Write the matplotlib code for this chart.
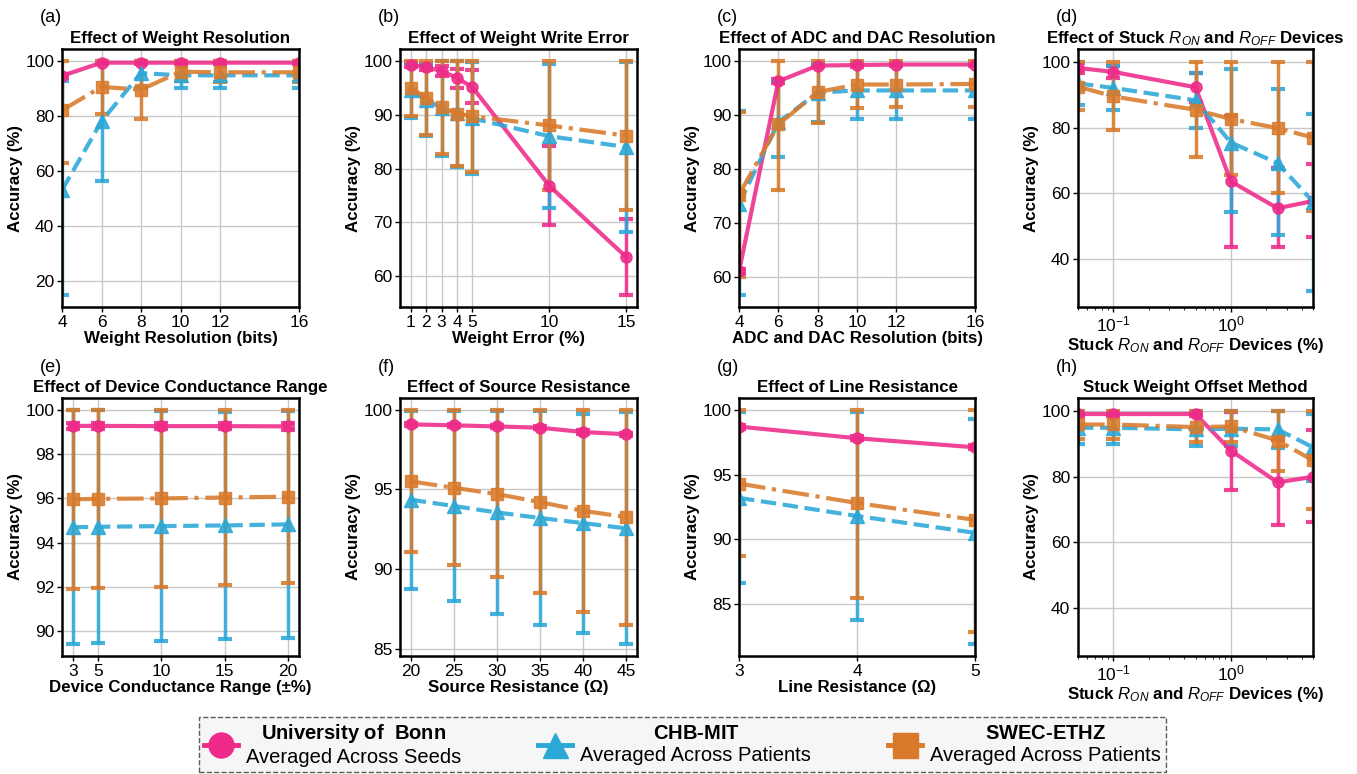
import numpy as np
import matplotlib
matplotlib.use("Agg")
import matplotlib.pyplot as plt
from matplotlib.lines import Line2D
from matplotlib.ticker import MultipleLocator

plt.rcParams['font.family'] = 'Liberation Sans'
plt.rcParams['mathtext.fontset'] = 'custom'
plt.rcParams['mathtext.rm'] = 'Liberation Sans'
plt.rcParams['mathtext.it'] = 'Liberation Sans:italic'
plt.rcParams['mathtext.bf'] = 'Liberation Sans:bold'

# ---------------- data ----------------
# (a) weight resolution
xa = [4, 6, 8, 10, 12, 16]
bonn_a = [94.5, 99.3, 99.3, 99.3, 99.3, 99.3]
bonn_a_lo = [93.7, 98.8, 98.8, 98.8, 98.8, 98.8]
bonn_a_hi = [95.3, 99.8, 99.8, 99.8, 99.8, 99.8]
chb_a = [53.0, 78.0, 95.5, 94.7, 94.7, 94.7]
chb_a_lo = [14.8, 56.3, 90.0, 90.0, 90.0, 90.0]
chb_a_hi = [92.7, 99.7, 100.0, 99.5, 99.5, 99.5]
swec_a = [82.0, 90.5, 89.5, 96.0, 95.8, 95.8]
swec_a_lo = [63.0, 80.7, 79.0, 92.5, 92.2, 92.2]
swec_a_hi = [100, 100, 100, 100, 100, 100]

# (b) weight write error
xb = [1, 2, 3, 4, 5, 10, 15]
bonn_b = [99.3, 98.8, 98.1, 96.8, 95.1, 76.8, 63.6]
bonn_b_lo = [98.8, 98.2, 97.2, 95.0, 92.1, 69.6, 56.5]
bonn_b_hi = [99.8, 99.4, 99.0, 98.5, 98.3, 84.1, 70.6]
chb_b = [94.5, 92.7, 91.3, 90.3, 89.3, 86.0, 84.0]
chb_b_lo = [89.4, 86.1, 82.3, 80.3, 78.9, 72.6, 68.3]
chb_b_hi = [99.6, 99.3, 100, 100, 99.7, 99.4, 99.7]
swec_b = [95.0, 93.1, 91.4, 90.2, 89.7, 88.0, 86.1]
swec_b_lo = [89.7, 86.3, 82.7, 80.5, 79.3, 76.1, 72.3]
swec_b_hi = [100, 100, 100, 100, 100, 100, 100]

# (c) ADC / DAC resolution
xc = [4, 6, 8, 10, 12, 16]
bonn_c = [61.0, 96.2, 99.1, 99.2, 99.3, 99.3]
bonn_c_lo = [60.6, 95.8, 98.8, 98.9, 99.0, 99.0]
bonn_c_hi = [61.4, 96.6, 99.4, 99.5, 99.6, 99.6]
chb_c = [73.5, 88.6, 94.1, 94.5, 94.5, 94.5]
chb_c_lo = [56.6, 82.1, 88.6, 89.3, 89.3, 89.3]
chb_c_hi = [90.7, 96.3, 99.6, 99.7, 99.7, 99.7]
swec_c = [75.2, 88.2, 94.2, 95.6, 95.6, 95.7]
swec_c_lo = [60.0, 76.0, 88.4, 91.3, 91.5, 91.5]
swec_c_hi = [90.5, 100, 100, 100, 100, 100]

# (d) stuck devices
xd = [0.05, 0.1, 0.5, 1, 2.5, 5]
bonn_d = [98.3, 97.1, 92.4, 63.6, 55.4, 57.6]
bonn_d_lo = [96.8, 95.2, 88.0, 43.6, 43.6, 46.5]
bonn_d_hi = [99.8, 99.0, 96.8, 83.6, 67.8, 68.8]
chb_d = [93.6, 92.2, 88.4, 75.5, 69.2, 57.4]
chb_d_lo = [86.9, 85.5, 79.9, 54.3, 47.1, 30.0]
chb_d_hi = [100, 98.9, 96.9, 97.9, 91.9, 84.3]
swec_d = [92.6, 89.6, 85.5, 82.7, 79.9, 77.0]
swec_d_lo = [85.5, 79.4, 71.2, 65.5, 60.2, 54.6]
swec_d_hi = [100, 100, 100, 100, 100, 100]

# (e) device conductance range
xe = [3, 5, 10, 15, 20]
bonn_e = [99.27, 99.27, 99.26, 99.26, 99.25]
bonn_e_lo = [99.12, 99.12, 99.11, 99.11, 99.10]
bonn_e_hi = [99.42, 99.42, 99.41, 99.41, 99.40]
chb_e = [94.70, 94.72, 94.75, 94.78, 94.83]
chb_e_lo = [89.42, 89.46, 89.55, 89.64, 89.72]
chb_e_hi = [99.98, 99.98, 99.95, 99.92, 99.94]
swec_e = [95.96, 95.98, 96.00, 96.04, 96.08]
swec_e_lo = [91.93, 91.95, 92.02, 92.10, 92.18]
swec_e_hi = [100, 100, 100, 100, 100]

# (f) source resistance
xf = [20, 25, 30, 35, 40, 45]
bonn_f = [99.08, 99.02, 98.95, 98.87, 98.60, 98.46]
bonn_f_lo = [98.98, 98.92, 98.85, 98.77, 98.50, 98.36]
bonn_f_hi = [99.18, 99.12, 99.05, 98.97, 98.70, 98.56]
chb_f = [94.35, 93.95, 93.55, 93.20, 92.88, 92.55]
chb_f_lo = [88.75, 88.00, 87.20, 86.50, 86.00, 85.27]
chb_f_hi = [99.95, 99.90, 99.90, 99.90, 99.76, 99.83]
swec_f = [95.50, 95.10, 94.70, 94.20, 93.65, 93.26]
swec_f_lo = [91.05, 90.25, 89.48, 88.50, 87.30, 86.50]
swec_f_hi = [100, 100, 100, 100, 100, 100]

# (g) line resistance
xg = [3, 4, 5]
bonn_g = [98.7, 97.8, 97.1]
bonn_g_lo = [98.55, 97.65, 96.95]
bonn_g_hi = [98.85, 97.95, 97.25]
chb_g = [93.2, 91.8, 90.5]
chb_g_lo = [86.6, 83.8, 81.9]
chb_g_hi = [99.8, 99.8, 99.3]
swec_g = [94.3, 92.8, 91.5]
swec_g_lo = [88.7, 85.5, 82.85]
swec_g_hi = [100, 100, 100]

# (h) stuck weight offset method
xh = [0.05, 0.1, 0.5, 1, 2.5, 5]
bonn_h = [99.2, 99.2, 99.2, 88.0, 78.3, 80.0]
bonn_h_lo = [98.6, 98.6, 98.6, 76.1, 65.3, 66.3]
bonn_h_hi = [99.8, 99.8, 99.8, 99.9, 91.3, 94.2]
chb_h = [95.0, 95.0, 94.5, 94.7, 94.5, 89.0]
chb_h_lo = [90.1, 90.1, 89.3, 89.3, 88.9, 78.8]
chb_h_hi = [99.9, 99.9, 99.7, 100, 100, 99.2]
swec_h = [96.0, 96.0, 95.2, 95.4, 91.1, 85.0]
swec_h_lo = [91.6, 91.6, 90.6, 90.6, 81.7, 70.1]
swec_h_hi = [100, 100, 100, 100, 100, 100]

titles = ["Effect of Weight Resolution", "Effect of Weight Write Error",
          "Effect of ADC and DAC Resolution",
          "Effect of Stuck $R_{ON}$ and $R_{OFF}$ Devices",
          "Effect of Device Conductance Range", "Effect of Source Resistance",
          "Effect of Line Resistance", "Stuck Weight Offset Method"]
xlabels = ["Weight Resolution (bits)", "Weight Error (%)",
           "ADC and DAC Resolution (bits)",
           "Stuck $R_{ON}$ and $R_{OFF}$ Devices (%)",
           "Device Conductance Range (\u00b1%)", "Source Resistance (\u03a9)",
           "Line Resistance (\u03a9)", "Stuck $R_{ON}$ and $R_{OFF}$ Devices (%)"]
letters = ["(a)", "(b)", "(c)", "(d)", "(e)", "(f)", "(g)", "(h)"]
ysteps = [20, 10, 10, 20, 2, 5, 5, 20]

c_bonn = '#ee2a8a'
c_chb = '#2aa8d8'
c_swec = '#d97a2b'

# ---------------- figure ----------------
fig = plt.figure(figsize=(13.57, 7.74), dpi=100)
W, H = 1357., 774.
lefts = [62, 400, 739, 1078]
widths = [237, 237, 236, 235]
tops = [49, 398]
hgt = 258


def panel(k, x, bonn, chb, swec, logx=False, tight=False, ylim=None):
    r, c = divmod(k, 4)
    ax = fig.add_axes([lefts[c]/W, 1-(tops[r]+hgt)/H, widths[c]/W, hgt/H])
    ax.grid(True, color='#c8c8c8', lw=1.0, zorder=0)
    ax.set_axisbelow(True)
    for (m, lo, hi), col, ls, mk, ms in [(bonn, c_bonn, '-', 'o', 8),
                                         (chb, c_chb, '--', '^', 9.5),
                                         (swec, c_swec, '-.', 's', 8.5)]:
        m = np.array(m, float)
        err = [m-np.array(lo, float), np.array(hi, float)-m]
        ax.errorbar(x, m, yerr=err, color=col, ls=ls, lw=3.0, marker=mk, ms=ms,
                    elinewidth=2.5, capsize=5, capthick=3, alpha=0.88)
    if logx:
        ax.set_xscale('log')
        ax.set_xlim(0.05, 5)
    else:
        ax.set_xticks(x)
        if tight:
            ax.set_xlim(x[0], x[-1])
    if ylim is not None:
        ax.set_ylim(*ylim)
    ax.yaxis.set_major_locator(MultipleLocator(ysteps[k]))
    for s in ax.spines.values():
        s.set_linewidth(1.8)
        s.set_color('black')
    ax.tick_params(labelsize=12.5, width=1, length=3.5, pad=2)
    ax.set_title(titles[k], fontsize=12.2, fontweight='bold', pad=4)
    ax.set_xlabel(xlabels[k], fontsize=12.2, fontweight='bold', labelpad=1)
    ax.set_ylabel("Accuracy (%)", fontsize=12.2, fontweight='bold', labelpad=2)
    fig.text((lefts[c]-22)/W, 1-(tops[r]-31)/H, letters[k], fontsize=13,
             ha='left', va='center')
    return ax


panel(0, xa, (bonn_a, bonn_a_lo, bonn_a_hi), (chb_a, chb_a_lo, chb_a_hi),
      (swec_a, swec_a_lo, swec_a_hi), tight=True)
panel(1, xb, (bonn_b, bonn_b_lo, bonn_b_hi), (chb_b, chb_b_lo, chb_b_hi),
      (swec_b, swec_b_lo, swec_b_hi))
panel(2, xc, (bonn_c, bonn_c_lo, bonn_c_hi), (chb_c, chb_c_lo, chb_c_hi),
      (swec_c, swec_c_lo, swec_c_hi), tight=True)
panel(3, xd, (bonn_d, bonn_d_lo, bonn_d_hi), (chb_d, chb_d_lo, chb_d_hi),
      (swec_d, swec_d_lo, swec_d_hi), logx=True, ylim=(25.2, 104.1))
panel(4, xe, (bonn_e, bonn_e_lo, bonn_e_hi), (chb_e, chb_e_lo, chb_e_hi),
      (swec_e, swec_e_lo, swec_e_hi))
panel(5, xf, (bonn_f, bonn_f_lo, bonn_f_hi), (chb_f, chb_f_lo, chb_f_hi),
      (swec_f, swec_f_lo, swec_f_hi))
panel(6, xg, (bonn_g, bonn_g_lo, bonn_g_hi), (chb_g, chb_g_lo, chb_g_hi),
      (swec_g, swec_g_lo, swec_g_hi), tight=True)
panel(7, xh, (bonn_h, bonn_h_lo, bonn_h_hi), (chb_h, chb_h_lo, chb_h_hi),
      (swec_h, swec_h_lo, swec_h_hi), logx=True, ylim=(25.2, 104.1))

# legend
handles = [Line2D([], [], color=c_bonn, lw=3.5, marker='o', ms=18),
           Line2D([], [], color=c_chb, lw=3.5, marker='^', ms=18),
           Line2D([], [], color=c_swec, lw=3.5, marker='s', ms=18)]
labels = [r"$\bf{University\ of\ \ Bonn}$" + "\nAveraged Across Seeds",
          "$\\bf{CHB\u2010MIT}$" + "\nAveraged Across Patients",
          "$\\bf{SWEC\u2010ETHZ}$" + "\nAveraged Across Patients"]
leg = fig.legend(handles, labels, loc='lower center', bbox_to_anchor=(0.503, 0.003),
                 ncol=3, fontsize=14.5, handlelength=1.7, handletextpad=0.4,
                 columnspacing=3.8, fancybox=False, frameon=True,
                 borderpad=0.25, labelspacing=0.2, borderaxespad=0)
leg.get_frame().set_linestyle('--')
leg.get_frame().set_edgecolor('#333333')
leg.get_frame().set_facecolor('#f4f4f4')
leg.get_frame().set_linewidth(1.0)
for t in leg.get_texts():
    t.set_multialignment('center')

plt.savefig('out.png', dpi=100)
